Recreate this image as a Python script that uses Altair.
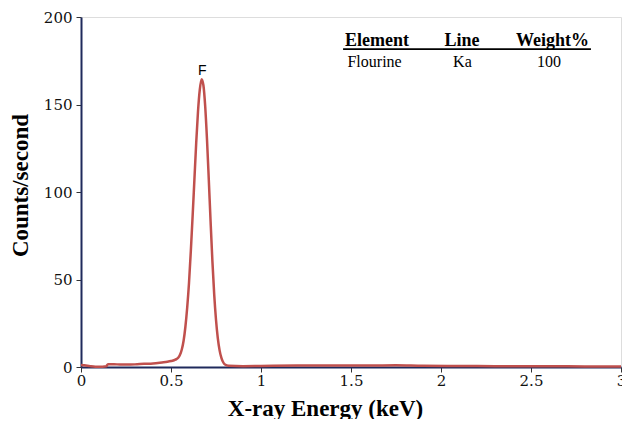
import altair as alt
import pandas as pd

# Spectrum
energy_kev = [0.00, 0.02, 0.05, 0.08, 0.12, 0.14, 0.15, 0.20, 0.25, 0.30, 0.35, 0.40, 0.45,
              0.48, 0.50, 0.52,
              0.53, 0.54, 0.55, 0.56, 0.57, 0.58, 0.59, 0.60, 0.61, 0.62, 0.63, 0.64, 0.65, 0.66,
              0.67, 0.68, 0.69, 0.70, 0.71, 0.72, 0.73, 0.74, 0.75, 0.76, 0.77, 0.78, 0.79, 0.80,
              0.82, 0.90, 1.00, 1.20, 1.40, 1.60, 1.75, 1.90, 2.10, 2.30, 2.50, 2.70, 2.90, 3.00]
counts = [1.2, 1.0, 0.5, 0.2, 0.2, 0.4, 1.6, 1.5, 1.4, 1.5, 1.8, 2.0, 2.6,
          3.0, 3.4, 4.0,
          4.5, 5.3, 7.0, 10.0, 15.0, 23.0, 34.0, 48.0, 66.0, 86.0, 107.0, 128.0, 146.0, 158.5,
          164.5, 161.0, 149.0, 130.0, 107.0, 83.0, 60.5, 41.5, 27.0, 16.5, 9.5, 5.2, 2.7, 1.4,
          0.7, 0.5, 0.6, 0.8, 0.9, 0.8, 1.0, 0.7, 0.6, 0.5, 0.4, 0.4, 0.3, 0.3]

table_headers = ["Element", "Line", "Weight%"]
table_row = ["Flourine", "Ka", "100"]
peak_label = "F"
x_ticks = [0, 0.5, 1, 1.5, 2, 2.5, 3]
y_ticks = [0, 50, 100, 150, 200]

df = pd.DataFrame({"energy": energy_kev, "counts": counts})

NAVY = "#1f2a5c"
RED = "#c0504d"
SERIF = "Liberation Serif"
TICKFONT = "DejaVu Serif"

x_scale = alt.Scale(domain=[0, 3], nice=False, zero=False)
y_scale = alt.Scale(domain=[0, 200], nice=False)

x_enc = alt.X("energy:Q", scale=x_scale, axis=alt.Axis(
    values=x_ticks, format="~g", title="X-ray Energy (keV)", grid=False,
    labelFont=TICKFONT, labelFontSize=15, labelColor="#111", labelFlush=False,
    labelPadding=1, tickSize=5, tickColor="#333", domainColor=NAVY, domainWidth=2,
    titleFont=SERIF, titleFontSize=23, titleFontWeight="bold", titleColor="#000",
    titlePadding=9, titleX=244))
y_enc = alt.Y("counts:Q", scale=y_scale, axis=alt.Axis(
    values=y_ticks, title="Counts/second", grid=False,
    labelFont=TICKFONT, labelFontSize=15, labelColor="#111",
    labelPadding=4, tickSize=5, tickColor="#333", domainColor=NAVY, domainWidth=2,
    titleFont=SERIF, titleFontSize=23, titleFontWeight="bold", titleColor="#000",
    titlePadding=11, titleY=168))

line = alt.Chart(df).mark_line(color=RED, strokeWidth=2.5, interpolate="monotone").encode(
    x=x_enc, y=y_enc)

layers = [line]

# Table annotation (data coordinates)
hdr_x = [1.644, 2.117, 2.619]
row_x = [1.631, 2.119, 2.600]
for txt, xv in zip(table_headers, hdr_x):
    layers.append(alt.Chart().mark_text(font=SERIF, fontSize=18, fontWeight="bold",
                                        baseline="alphabetic", align="center", color="#000").encode(
        x=alt.datum(xv), y=alt.datum(183.4), text=alt.datum(txt)))
for txt, xv in zip(table_row, row_x):
    layers.append(alt.Chart().mark_text(font=SERIF, fontSize=16,
                                        baseline="alphabetic", align="center", color="#000").encode(
        x=alt.datum(xv), y=alt.datum(171.6), text=alt.datum(txt)))

layers.append(alt.Chart().mark_rule(color="#000", strokeWidth=1.8).encode(
    x=alt.datum(1.456), x2=alt.datum(2.833), y=alt.datum(181.6)))

layers.append(alt.Chart().mark_text(font="Liberation Sans", fontSize=14,
                                    baseline="alphabetic", align="center", color="#000").encode(
    x=alt.datum(0.674), y=alt.datum(167.0), text=alt.datum(peak_label)))

chart = alt.layer(*layers).properties(
    width=540, height=350,
    padding={"left": 73, "top": 9, "right": 1, "bottom": 52},
    autosize=alt.AutoSizeParams(type="none"),
).configure_view(stroke=NAVY, strokeWidth=2).configure(background="white")

chart.save("out.html", embed_options={"renderer": "svg", "actions": False})
